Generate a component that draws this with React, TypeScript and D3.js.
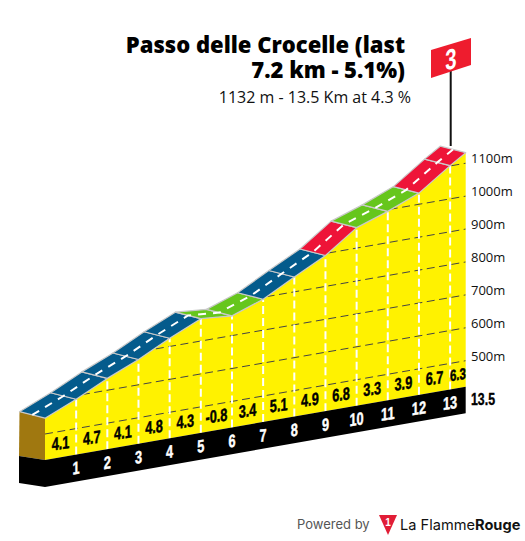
import React from "react";
import * as d3 from "d3";

const kms = [0, 1, 2, 3, 4, 5, 6, 7, 8, 9, 10, 11, 12, 13, 13.5];
const elevations = [548, 589, 636, 677, 725, 768, 760, 794, 845, 894, 962, 995, 1034, 1101, 1132];
const gradients = [4.1, 4.7, 4.1, 4.8, 4.3, -0.8, 3.4, 5.1, 4.9, 6.8, 3.3, 3.9, 6.7, 6.3];
const kmTicks = [1, 2, 3, 4, 5, 6, 7, 8, 9, 10, 11, 12, 13];
const altTicks = [500, 600, 700, 800, 900, 1000, 1100];
const gradeThresholds = [4, 6];
const gradeColors = ["#66c61c", "#045b8c", "#ee1438"];
const titleLines = ["Passo delle Crocelle (last", "7.2 km - 5.1%)"];
const subtitle = "1132 m - 13.5 Km at 4.3 %";
const endLabel = "13.5";
const categoryLabel = "3";

const narrow = "'Liberation Sans', sans-serif";
const openSans = "'Open Sans', sans-serif";

export default function App() {
  const x = d3.scaleLinear().domain([0, 13.5]).range([45, 465.7]);
  const base = d3.scaleLinear().domain([0, 13.5]).range([460, 386.7]);
  const h = d3.scaleLinear().domain([421, 1132]).range([0, 234]);
  const color = d3.scaleThreshold<number, string>().domain(gradeThresholds).range(gradeColors);
  const line = d3.line<[number, number]>();
  const poly = (p: [number, number][]) => line(p) + "Z";
  const yAt = (km: number, e: number) => base(km) - h(e);
  const back: [number, number] = [-25.5, -6.5];
  const depthBottom: [number, number] = [-26, -4];

  const top = kms.map((k, i) => [x(k), yAt(k, elevations[i])] as [number, number]);
  const yellow: [number, number][] = [
    ...top,
    [x(13.5), base(13.5)],
    [x(0), base(0)],
  ];
  const brown: [number, number][] = [
    [x(0), top[0][1]],
    [x(0) + back[0], top[0][1] + back[1]],
    [x(0) + depthBottom[0], base(0) + depthBottom[1]],
    [x(0), base(0)],
  ];
  const blackFront: [number, number][] = [
    [x(0), base(0)],
    [x(13.5), base(13.5)],
    [x(13.5), base(13.5) + 26.5],
    [x(0), base(0) + 27],
  ];
  const blackSide: [number, number][] = [
    [x(0), base(0)],
    [x(0) + depthBottom[0], base(0) + depthBottom[1]],
    [x(0) + depthBottom[0], base(0) + depthBottom[1] + 27],
    [x(0), base(0) + 27],
  ];
  const mid = top.map((p) => [p[0] + back[0] / 2, p[1] + back[1] / 2] as [number, number]);

  return (
    <svg width={525} height={541} viewBox="0 0 525 541" style={{ position: "absolute", left: 0, top: 0 }}>
      <defs>
        <clipPath id="terrain"><path d={poly(yellow)} /></clipPath>
      </defs>
      <rect width={525} height={541} fill="#fff" />
      {titleLines.map((t, i) => (
        <text key={t} x={405} y={53 + i * 24.5} textAnchor="end" fontFamily={openSans} fontWeight={800} fontSize={22} fill="#000">{t}</text>
      ))}
      <text x={411} y={103} textAnchor="end" fontFamily={openSans} fontSize={16} fill="#111">{subtitle}</text>

      <path d={poly(yellow)} fill="#fff200" />
      <path d={poly(brown)} fill="#a07810" />
      <path d={poly(blackSide)} fill="#000" />
      <path d={poly(blackFront)} fill="#000" />

      <g clipPath="url(#terrain)">
        {altTicks.map((a) => (
          <line key={a} x1={x(0)} x2={x(13.5)} y1={yAt(0, a)} y2={yAt(13.5, a)} stroke="#444" strokeWidth={1} strokeDasharray="8 4.5" />
        ))}
        {kmTicks.map((k) => (
          <line key={k} x1={x(k)} x2={x(k)} y1={base(k)} y2={yAt(k, elevations[kms.indexOf(k)])} stroke="#fff" strokeWidth={2} strokeDasharray="8 4" />
        ))}
      </g>

      {gradients.map((g, i) => {
        const a = top[i], b = top[i + 1];
        return (
          <path key={i} d={poly([a, b, [b[0] + back[0], b[1] + back[1]], [a[0] + back[0], a[1] + back[1]]])}
            fill={color(g)} stroke="#c9c9c9" strokeWidth={1.2} strokeLinejoin="round" />
        );
      })}
      <path d={line(mid) ?? ""} fill="none" stroke="#fff" strokeWidth={2} strokeDasharray="8 7" />

      {gradients.map((g, i) => {
        const km = (kms[i] + kms[i + 1]) / 2;
        const cx = x(km), cy = base(km) - 8;
        return (
          <text key={i} transform={`translate(${cx},${cy}) skewY(-8) scale(0.85,1.18)`} textAnchor="middle" fontFamily={narrow} fontWeight={700} fontSize={i === 13 ? 13.5 : 15} fill="#000" stroke="#000" strokeWidth={0.4}>{g.toFixed(1)}</text>
        );
      })}
      {kmTicks.map((k) => (
        <text key={k} transform={`translate(${x(k)},${base(k) + 19.5}) skewY(-8) scale(0.85,1.18)`} textAnchor="middle" fontFamily={narrow} fontWeight={700} fontSize={15} fill="#fff" stroke="#fff" strokeWidth={0.4}>{k}</text>
      ))}
      {altTicks.map((a) => (
        <text key={a} x={471} y={yAt(13.5, a) + 0} fontFamily={openSans} fontSize={13} fill="#111">{a}m</text>
      ))}
      <text transform="translate(471,405) scale(0.85,1.18)" fontFamily={narrow} fontWeight={700} fontSize={14.5} fill="#000" stroke="#000" strokeWidth={0.3}>{endLabel}</text>

      <line x1={450.7} x2={450.7} y1={70} y2={146} stroke="#111" strokeWidth={2} />
      <path d={poly([[431, 50], [471, 38], [471, 65], [431, 78]])} fill="#ee1c2e" />
      <text transform="translate(451,69) skewY(-14) scale(0.85,1.2)" textAnchor="middle" fontFamily={narrow} fontWeight={700} fontSize={24} fill="#fff">{categoryLabel}</text>

      <text x={297} y={529} fontFamily="Inter, sans-serif" fontSize={13} fill="#555">Powered by</text>
      <path d={poly([[379, 515], [397, 515], [388, 535]])} fill="#e11d36" />
      <text x={388} y={526} textAnchor="middle" fontFamily={narrow} fontWeight={700} fontSize={10} fill="#fff">1</text>
      <text x={400} y={530} fontFamily="Inter, sans-serif" fontSize={14.6} fill="#111">La Flamme<tspan fontWeight={700}>Rouge</tspan></text>
    </svg>
  );
}
